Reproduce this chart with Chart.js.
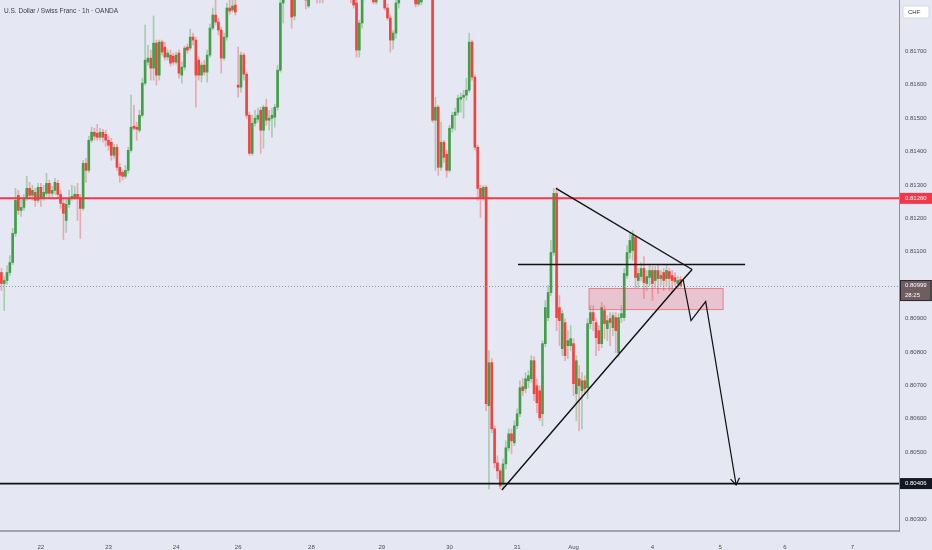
<!DOCTYPE html>
<html>
<head>
<meta charset="utf-8">
<script src="https://cdn.jsdelivr.net/npm/chart.js@4.4.1/dist/chart.umd.min.js"></script>
<style>
  html, body { margin: 0; padding: 0; background: #e5e8f3; }
</style>
</head>
<body>
<canvas id="fxChart" width="932" height="550"></canvas>
<script>
// hourly candles, USD/CHF (OANDA)
const opens = [
  0.81038, 0.81005, 0.81014, 0.81038, 0.81068, 0.81155, 0.81269, 0.81224, 0.81233, 0.81260,
  0.81290, 0.81269, 0.81278, 0.81254, 0.81293, 0.81263, 0.81275, 0.81305, 0.81275, 0.81284,
  0.81305, 0.81272, 0.81245, 0.81194, 0.81242, 0.81260, 0.81263, 0.81272, 0.81260, 0.81230,
  0.81365, 0.81344, 0.81434, 0.81458, 0.81455, 0.81443, 0.81458, 0.81452, 0.81434, 0.81428,
  0.81389, 0.81413, 0.81353, 0.81338, 0.81326, 0.81344, 0.81404, 0.81476, 0.81473, 0.81464,
  0.81509, 0.81605, 0.81668, 0.81680, 0.81650, 0.81725, 0.81629, 0.81728, 0.81713, 0.81683,
  0.81689, 0.81686, 0.81668, 0.81695, 0.81629, 0.81653, 0.81713, 0.81710, 0.81743, 0.81734,
  0.81674, 0.81629, 0.81659, 0.81638, 0.81689, 0.81770, 0.81809, 0.81788, 0.81764, 0.81680,
  0.81743, 0.81830, 0.81824, 0.81839, 0.81599, 0.81593, 0.81689, 0.81632, 0.81509, 0.81395,
  0.81485, 0.81497, 0.81524, 0.81464, 0.81533, 0.81494, 0.81500, 0.81503, 0.81533, 0.81644,
  0.81845, 0.81908, 0.81944, 0.81884, 0.81806, 0.81878, 0.81929, 0.81899, 0.81869, 0.81836,
  0.81884, 0.81929, 0.81899, 0.81860, 0.81878, 0.81860, 0.81914, 0.81959, 0.81938, 0.81974,
  0.81944, 0.81914, 0.81944, 0.81908, 0.81878, 0.81860, 0.81845, 0.81704, 0.81785, 0.81863,
  0.81899, 0.81878, 0.81908, 0.81848, 0.81884, 0.81914, 0.81884, 0.81830, 0.81800, 0.81734,
  0.81755, 0.81845, 0.81884, 0.81920, 0.81890, 0.81929, 0.81899, 0.81869, 0.81842, 0.81848,
  0.81878, 0.81866, 0.81890, 0.81914, 0.81494, 0.81533, 0.81353, 0.81428, 0.81392, 0.81344,
  0.81470, 0.81509, 0.81518, 0.81557, 0.81563, 0.81569, 0.81584, 0.81728, 0.81623, 0.81413,
  0.81290, 0.81263, 0.81293, 0.80639, 0.80768, 0.80570, 0.80468, 0.80444, 0.80405, 0.80465,
  0.80513, 0.80555, 0.80528, 0.80579, 0.80615, 0.80696, 0.80690, 0.80714, 0.80720, 0.80774,
  0.80699, 0.80684, 0.80615, 0.80825, 0.80903, 0.80978, 0.81098, 0.81275, 0.80933, 0.80810,
  0.80888, 0.80819, 0.80819, 0.80825, 0.80675, 0.80720, 0.80684, 0.80714, 0.80693, 0.80885,
  0.80918, 0.80888, 0.80864, 0.80825, 0.80924, 0.80870, 0.80900, 0.80873, 0.80903, 0.80798,
  0.80903, 0.80903, 0.81029, 0.81098, 0.81104, 0.81143, 0.81014, 0.81026, 0.81050, 0.81005,
  0.81023, 0.81044, 0.81014, 0.81044, 0.81020, 0.81038, 0.81020, 0.81041, 0.81029, 0.81023,
  0.81005, 0.81017
];
const highs = [
  0.81050, 0.81026, 0.81059, 0.81089, 0.81170, 0.81290, 0.81284, 0.81254, 0.81272, 0.81326,
  0.81308, 0.81299, 0.81290, 0.81305, 0.81305, 0.81299, 0.81335, 0.81314, 0.81296, 0.81320,
  0.81314, 0.81284, 0.81257, 0.81260, 0.81284, 0.81299, 0.81296, 0.81305, 0.81272, 0.81374,
  0.81380, 0.81446, 0.81473, 0.81470, 0.81482, 0.81470, 0.81467, 0.81464, 0.81446, 0.81440,
  0.81422, 0.81422, 0.81365, 0.81344, 0.81359, 0.81413, 0.81569, 0.81539, 0.81488, 0.81524,
  0.81620, 0.81779, 0.81719, 0.81704, 0.81806, 0.81734, 0.81734, 0.81734, 0.81728, 0.81704,
  0.81704, 0.81695, 0.81698, 0.81704, 0.81668, 0.81716, 0.81722, 0.81767, 0.81755, 0.81743,
  0.81683, 0.81668, 0.81674, 0.81704, 0.81782, 0.81830, 0.81854, 0.81800, 0.81773, 0.81755,
  0.81845, 0.81869, 0.81869, 0.81869, 0.81713, 0.81698, 0.81695, 0.81638, 0.81518, 0.81509,
  0.81524, 0.81530, 0.81533, 0.81539, 0.81557, 0.81524, 0.81530, 0.81542, 0.81659, 0.81869,
  0.81929, 0.81974, 0.81959, 0.81899, 0.81899, 0.81944, 0.81959, 0.81914, 0.81884, 0.81899,
  0.81944, 0.81944, 0.81914, 0.81890, 0.81890, 0.81929, 0.81974, 0.81989, 0.81998, 0.81989,
  0.81959, 0.81968, 0.81959, 0.81920, 0.81890, 0.81872, 0.81854, 0.81794, 0.81878, 0.81914,
  0.81920, 0.81929, 0.81914, 0.81899, 0.81929, 0.81929, 0.81890, 0.81842, 0.81809, 0.81764,
  0.81854, 0.81899, 0.81938, 0.81938, 0.81944, 0.81944, 0.81914, 0.81884, 0.81878, 0.81890,
  0.81896, 0.81908, 0.81929, 0.81929, 0.81563, 0.81539, 0.81488, 0.81434, 0.81404, 0.81479,
  0.81518, 0.81530, 0.81569, 0.81575, 0.81584, 0.81620, 0.81755, 0.81734, 0.81629, 0.81419,
  0.81299, 0.81299, 0.81299, 0.80804, 0.80780, 0.80579, 0.80489, 0.80450, 0.80480, 0.80534,
  0.80570, 0.80570, 0.80594, 0.80630, 0.80714, 0.80720, 0.80738, 0.80744, 0.80789, 0.80786,
  0.80720, 0.80699, 0.80834, 0.80954, 0.80999, 0.81134, 0.81290, 0.81293, 0.80969, 0.80924,
  0.80900, 0.80864, 0.80879, 0.80840, 0.80789, 0.80759, 0.80738, 0.80729, 0.80900, 0.80939,
  0.80939, 0.80900, 0.80879, 0.80948, 0.80939, 0.80909, 0.80918, 0.80918, 0.80918, 0.80915,
  0.80939, 0.81050, 0.81119, 0.81155, 0.81164, 0.81149, 0.81050, 0.81068, 0.81086, 0.81044,
  0.81059, 0.81056, 0.81056, 0.81059, 0.81044, 0.81050, 0.81059, 0.81050, 0.81044, 0.81038,
  0.81026, 0.81026
];
const lows = [
  0.80984, 0.80924, 0.81002, 0.81029, 0.81062, 0.81146, 0.81212, 0.81206, 0.81224, 0.81254,
  0.81260, 0.81254, 0.81236, 0.81248, 0.81236, 0.81254, 0.81266, 0.81260, 0.81266, 0.81272,
  0.81263, 0.81230, 0.81137, 0.81158, 0.81233, 0.81254, 0.81257, 0.81194, 0.81140, 0.81224,
  0.81308, 0.81338, 0.81428, 0.81434, 0.81434, 0.81434, 0.81428, 0.81416, 0.81404, 0.81374,
  0.81380, 0.81344, 0.81308, 0.81314, 0.81320, 0.81335, 0.81398, 0.81464, 0.81434, 0.81458,
  0.81503, 0.81599, 0.81659, 0.81614, 0.81614, 0.81599, 0.81614, 0.81689, 0.81674, 0.81674,
  0.81656, 0.81659, 0.81662, 0.81620, 0.81605, 0.81644, 0.81695, 0.81704, 0.81719, 0.81533,
  0.81614, 0.81608, 0.81629, 0.81608, 0.81683, 0.81764, 0.81779, 0.81749, 0.81635, 0.81674,
  0.81734, 0.81812, 0.81818, 0.81809, 0.81563, 0.81578, 0.81614, 0.81500, 0.81389, 0.81389,
  0.81476, 0.81488, 0.81395, 0.81410, 0.81479, 0.81464, 0.81443, 0.81473, 0.81524, 0.81638,
  0.81785, 0.81899, 0.81869, 0.81770, 0.81794, 0.81869, 0.81884, 0.81860, 0.81827, 0.81830,
  0.81878, 0.81884, 0.81845, 0.81845, 0.81845, 0.81857, 0.81908, 0.81929, 0.81929, 0.81929,
  0.81899, 0.81902, 0.81890, 0.81866, 0.81845, 0.81830, 0.81683, 0.81683, 0.81770, 0.81854,
  0.81866, 0.81869, 0.81842, 0.81842, 0.81875, 0.81869, 0.81824, 0.81794, 0.81698, 0.81707,
  0.81740, 0.81830, 0.81872, 0.81878, 0.81878, 0.81884, 0.81860, 0.81833, 0.81836, 0.81839,
  0.81857, 0.81860, 0.81878, 0.81488, 0.81344, 0.81329, 0.81344, 0.81368, 0.81323, 0.81338,
  0.81458, 0.81464, 0.81509, 0.81518, 0.81500, 0.81554, 0.81578, 0.81614, 0.81404, 0.81254,
  0.81203, 0.81254, 0.80624, 0.80390, 0.80558, 0.80453, 0.80420, 0.80390, 0.80390, 0.80450,
  0.80504, 0.80495, 0.80519, 0.80570, 0.80606, 0.80669, 0.80678, 0.80693, 0.80708, 0.80654,
  0.80618, 0.80594, 0.80579, 0.80816, 0.80894, 0.80969, 0.81089, 0.80864, 0.80819, 0.80789,
  0.80774, 0.80780, 0.80804, 0.80669, 0.80594, 0.80564, 0.80570, 0.80678, 0.80660, 0.80870,
  0.80864, 0.80789, 0.80804, 0.80813, 0.80840, 0.80834, 0.80819, 0.80849, 0.80798, 0.80786,
  0.80888, 0.80894, 0.81020, 0.81080, 0.81074, 0.80993, 0.80993, 0.81014, 0.80960, 0.80984,
  0.80999, 0.80954, 0.80993, 0.80975, 0.80999, 0.80984, 0.80999, 0.80984, 0.80978, 0.80999,
  0.80990, 0.80993
];
const closes = [
  0.81005, 0.81014, 0.81038, 0.81068, 0.81155, 0.81254, 0.81224, 0.81233, 0.81260, 0.81290,
  0.81269, 0.81284, 0.81254, 0.81293, 0.81263, 0.81278, 0.81305, 0.81275, 0.81284, 0.81308,
  0.81272, 0.81245, 0.81215, 0.81242, 0.81260, 0.81266, 0.81272, 0.81260, 0.81230, 0.81365,
  0.81344, 0.81434, 0.81458, 0.81446, 0.81443, 0.81458, 0.81443, 0.81434, 0.81419, 0.81389,
  0.81413, 0.81353, 0.81329, 0.81326, 0.81344, 0.81404, 0.81473, 0.81470, 0.81467, 0.81509,
  0.81605, 0.81674, 0.81680, 0.81650, 0.81725, 0.81629, 0.81728, 0.81698, 0.81683, 0.81695,
  0.81665, 0.81668, 0.81689, 0.81635, 0.81653, 0.81710, 0.81704, 0.81743, 0.81734, 0.81629,
  0.81629, 0.81659, 0.81638, 0.81689, 0.81770, 0.81809, 0.81788, 0.81764, 0.81680, 0.81743,
  0.81830, 0.81821, 0.81836, 0.81818, 0.81593, 0.81689, 0.81632, 0.81509, 0.81395, 0.81485,
  0.81500, 0.81509, 0.81464, 0.81533, 0.81494, 0.81500, 0.81509, 0.81533, 0.81644, 0.81845,
  0.81908, 0.81944, 0.81884, 0.81803, 0.81878, 0.81929, 0.81899, 0.81869, 0.81854, 0.81884,
  0.81929, 0.81899, 0.81860, 0.81878, 0.81860, 0.81914, 0.81959, 0.81938, 0.81974, 0.81944,
  0.81914, 0.81944, 0.81908, 0.81878, 0.81860, 0.81839, 0.81704, 0.81785, 0.81863, 0.81899,
  0.81878, 0.81908, 0.81848, 0.81884, 0.81914, 0.81884, 0.81830, 0.81800, 0.81734, 0.81755,
  0.81845, 0.81884, 0.81920, 0.81890, 0.81929, 0.81899, 0.81869, 0.81842, 0.81860, 0.81878,
  0.81866, 0.81890, 0.81914, 0.81494, 0.81533, 0.81353, 0.81428, 0.81383, 0.81344, 0.81470,
  0.81509, 0.81518, 0.81560, 0.81563, 0.81569, 0.81584, 0.81728, 0.81623, 0.81413, 0.81290,
  0.81263, 0.81293, 0.80645, 0.80768, 0.80570, 0.80468, 0.80444, 0.80399, 0.80465, 0.80513,
  0.80555, 0.80534, 0.80579, 0.80615, 0.80693, 0.80684, 0.80720, 0.80729, 0.80774, 0.80675,
  0.80648, 0.80603, 0.80825, 0.80933, 0.80978, 0.81098, 0.81275, 0.80903, 0.80894, 0.80915,
  0.80789, 0.80834, 0.80840, 0.80705, 0.80774, 0.80699, 0.80714, 0.80690, 0.80885, 0.80918,
  0.80894, 0.80843, 0.80825, 0.80933, 0.80885, 0.80894, 0.80888, 0.80909, 0.80864, 0.80903,
  0.80915, 0.81035, 0.81098, 0.81134, 0.81149, 0.81023, 0.81035, 0.81050, 0.81008, 0.81026,
  0.81044, 0.81005, 0.81044, 0.81020, 0.81029, 0.81014, 0.81044, 0.81020, 0.81014, 0.81011,
  0.81014, 0.80999
];

// time axis: one slot per hour, with empty room to the right
const TOTAL_SLOTS = 319;
const dayTickSlots = [14, 38, 62, 84, 110, 135, 159, 183, 203, 231, 255, 278, 302];
const dayLabels = ['22', '23', '24', '26', '28', '29', '30', '31', 'Aug', '4', '5', '6', '7'];
const priceTicks = [0.803, 0.805, 0.806, 0.807, 0.808, 0.809, 0.811, 0.812, 0.813, 0.814, 0.815, 0.816, 0.817];

// drawn levels and figures (slot, price)
const resistanceLevel = 0.81260;
const supportLevel = 0.80406;
const lastPrice = 0.80999;
const countdown = '28:25';
const upperTrend = [[196.8, 0.81290], [245.1, 0.81047]];
const lowerTrend = [[177.6, 0.80387], [241.9, 0.81017], [245.1, 0.81047]];
const breakLine = [[183.3, 0.81062], [263.9, 0.81062]];
const projection = [[241.9, 0.81017], [244.7, 0.80894], [249.9, 0.80951], [260.7, 0.80402]];
const zoneSlots = [208.5, 256.1];
const zonePrices = [0.80990, 0.80927];

const BG = '#e5e8f3';
const UP = '#419f47', DOWN = '#f4433d';
const UP_WICK = 'rgba(65,159,71,0.38)', DOWN_WICK = 'rgba(244,67,61,0.38)';
const FONT = "'Liberation Sans', Arial, sans-serif";

const slots = Array.from({ length: TOTAL_SLOTS }, (_, i) => i);
const isUp = i => closes[i] >= opens[i];

const overlay = {
  id: 'overlay',
  beforeDraw(chart) {
    const c = chart.ctx;
    c.save();
    c.fillStyle = BG;
    c.fillRect(0, 0, chart.width, chart.height);
    c.restore();
  },
  afterDatasetsDraw(chart) {
    const { ctx: c, chartArea: a } = chart;
    const X = v => chart.scales.x.getPixelForValue(v);
    const Y = v => chart.scales.y.getPixelForValue(v);
    const path = (pts) => {
      c.beginPath();
      pts.forEach(([s, p], k) => k ? c.lineTo(X(s), Y(p)) : c.moveTo(X(s), Y(p)));
      c.stroke();
    };
    c.save();

    // last price dotted line
    c.strokeStyle = '#8f96a6';
    c.lineWidth = 1;
    c.setLineDash([1, 2]);
    c.beginPath();
    c.moveTo(a.left, Math.round(Y(lastPrice)) + 0.5);
    c.lineTo(a.right, Math.round(Y(lastPrice)) + 0.5);
    c.stroke();
    c.setLineDash([]);

    // zone
    const zx0 = X(zoneSlots[0]), zx1 = X(zoneSlots[1]);
    const zy0 = Y(zonePrices[0]), zy1 = Y(zonePrices[1]);
    c.fillStyle = 'rgba(242,54,69,0.2)';
    c.fillRect(zx0, zy0, zx1 - zx0, zy1 - zy0);
    c.strokeStyle = 'rgba(242,54,69,0.55)';
    c.strokeRect(zx0, zy0, zx1 - zx0, zy1 - zy0);

    // horizontal levels
    c.lineWidth = 2;
    c.strokeStyle = '#f2374a';
    c.beginPath();
    c.moveTo(a.left, Y(resistanceLevel));
    c.lineTo(a.right, Y(resistanceLevel));
    c.stroke();
    c.strokeStyle = '#111';
    c.lineWidth = 1.6;
    c.beginPath();
    c.moveTo(a.left, Y(supportLevel));
    c.lineTo(a.right, Y(supportLevel));
    c.stroke();

    // triangle + break line
    c.lineWidth = 1.4;
    path(upperTrend);
    path(lowerTrend);
    path(breakLine);

    // projected path with arrow
    c.lineWidth = 1.2;
    path(projection);
    const [s1, p1] = projection[projection.length - 2];
    const [s2, p2] = projection[projection.length - 1];
    const ang = Math.atan2(Y(p2) - Y(p1), X(s2) - X(s1));
    const tx = X(s2), ty = Y(p2);
    c.beginPath();
    c.moveTo(tx - 8 * Math.cos(ang - 0.6), ty - 8 * Math.sin(ang - 0.6));
    c.lineTo(tx, ty);
    c.lineTo(tx - 8 * Math.cos(ang + 0.6), ty - 8 * Math.sin(ang + 0.6));
    c.stroke();
    c.restore();
  },
  afterDraw(chart) {
    const c = chart.ctx;
    const y = chart.scales.y;
    const left = y.left, w = chart.width - y.left;
    c.save();
    c.font = `6px ${FONT}`;
    c.textBaseline = 'middle';

    const badge = (price, fill, lines) => {
      const py = y.getPixelForValue(price);
      const h = lines.length > 1 ? 21 : 11;
      c.fillStyle = fill;
      c.fillRect(left + 1, py - 5.5, w - 1, h);
      c.fillStyle = '#fff';
      lines.forEach((t, k) => c.fillText(t, left + 6, py + k * 10));
    };
    badge(resistanceLevel, '#f2374a', [resistanceLevel.toFixed(5)]);
    badge(supportLevel, '#131722', [supportLevel.toFixed(5)]);
    c.strokeStyle = '#2a2a2a';
    const lp = y.getPixelForValue(lastPrice);
    badge(lastPrice, '#6f5d5f', [lastPrice.toFixed(5), countdown]);
    c.lineWidth = 1;
    c.strokeRect(left + 1.5, lp - 5, w - 2.5, 20);

    // currency box
    c.fillStyle = '#fff';
    c.strokeStyle = '#d6d9e0';
    c.beginPath();
    c.roundRect(left + 4, 6, 26, 12, 2);
    c.fill();
    c.stroke();
    c.fillStyle = '#333';
    c.fillText('CHF', left + 9, 12.5);

    // title
    c.font = `6.5px ${FONT}`;
    c.fillStyle = '#3b3d45';
    c.fillText('U.S. Dollar / Swiss Franc · 1h · OANDA', 4, 11);
    c.restore();
  }
};

new Chart(document.getElementById('fxChart'), {
  type: 'bar',
  data: {
    labels: slots,
    datasets: [
      {
        label: 'wick',
        data: lows.map((l, i) => [l, highs[i]]),
        backgroundColor: ctx => isUp(ctx.dataIndex) ? UP_WICK : DOWN_WICK,
        barThickness: 1,
        grouped: false,
        order: 2,
      },
      {
        label: 'body',
        data: opens.map((o, i) => [o, closes[i]]),
        backgroundColor: ctx => isUp(ctx.dataIndex) ? UP : DOWN,
        barThickness: 2,
        minBarLength: 1,
        grouped: false,
        order: 1,
      }
    ]
  },
  options: {
    responsive: false,
    animation: false,
    events: [],
    layout: { padding: 0 },
    plugins: {
      legend: { display: false },
      tooltip: { enabled: false },
    },
    scales: {
      x: {
        type: 'category',
        grid: { display: false },
        border: { color: '#a2a5ad', width: 2 },
        ticks: {
          autoSkip: false,
          maxRotation: 0,
          padding: 5,
          color: '#4a4c55',
          font: { family: FONT, size: 6 },
          callback: (v, i) => dayLabels[i],
        },
        afterBuildTicks: s => { s.ticks = dayTickSlots.map(v => ({ value: v })); },
        afterFit: s => { s.height = 19; s.paddingLeft = 0; s.paddingRight = 0; },
      },
      y: {
        position: 'right',
        min: 0.80264,
        max: 0.81854,
        grid: { display: false, drawTicks: false },
        border: { color: '#8d9099', width: 1 },
        ticks: {
          padding: 6,
          color: '#4a4c55',
          font: { family: FONT, size: 6 },
          callback: v => v.toFixed(5),
        },
        afterBuildTicks: s => { s.ticks = priceTicks.map(v => ({ value: v })); },
        afterFit: s => { s.width = 33; s.paddingTop = 0; s.paddingBottom = 0; },
      }
    }
  },
  plugins: [overlay]
});
</script>
</body>
</html>
